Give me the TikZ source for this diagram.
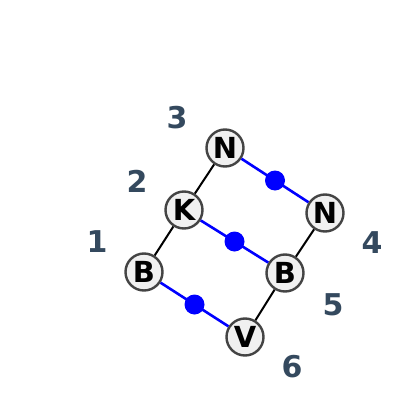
\documentclass[tikz,border=0pt]{standalone}
\usepackage{fontspec}
\setmainfont{DejaVu Sans}
\definecolor{numcol}{HTML}{34495E}
\definecolor{ringcol}{HTML}{444444}
\definecolor{fillcol}{HTML}{F0F0F0}
\begin{document}
\begin{tikzpicture}[x=1pt,y=-1pt,
  atom/.style={circle,draw=ringcol,line width=2.4pt,fill=fillcol,minimum size=37pt,inner sep=0pt,font=\fontsize{29}{29}\selectfont\bfseries},
  bond/.style={draw=black,line width=2pt},
  bbond/.style={draw=blue,line width=2.6pt},
  dot/.style={circle,fill=blue,minimum size=20pt,inner sep=0pt},
  num/.style={text=numcol,font=\fontsize{30}{30}\selectfont\bfseries}]
\useasboundingbox (0,0) rectangle (400,415);
\node[atom] (B1) at (144,272) {B};
\node[atom] (K) at (184,210) {K};
\node[atom] (N1) at (225,148) {N};
\node[atom] (N2) at (325,213) {N};
\node[atom] (B2) at (285,273) {B};
\node[atom] (V) at (245,337) {V};
\draw[bond] (B1) -- (K);
\draw[bond] (K) -- (N1);
\draw[bond] (N2) -- (B2);
\draw[bond] (B2) -- (V);
\draw[bbond] (N1) -- node[dot] (d1) {} (N2);
\draw[bbond] (K) -- node[dot] (d2) {} (B2);
\draw[bbond] (B1) -- node[dot] (d3) {} (V);
\node[num] (l3) at (177,118) {3};
\node[num] (l2) at (137,181) {2};
\node[num] (l1) at (97,242) {1};
\node[num] (l4) at (372,243) {4};
\node[num] (l5) at (333,305) {5};
\node[num] (l6) at (292,367) {6};
\end{tikzpicture}
\end{document}
